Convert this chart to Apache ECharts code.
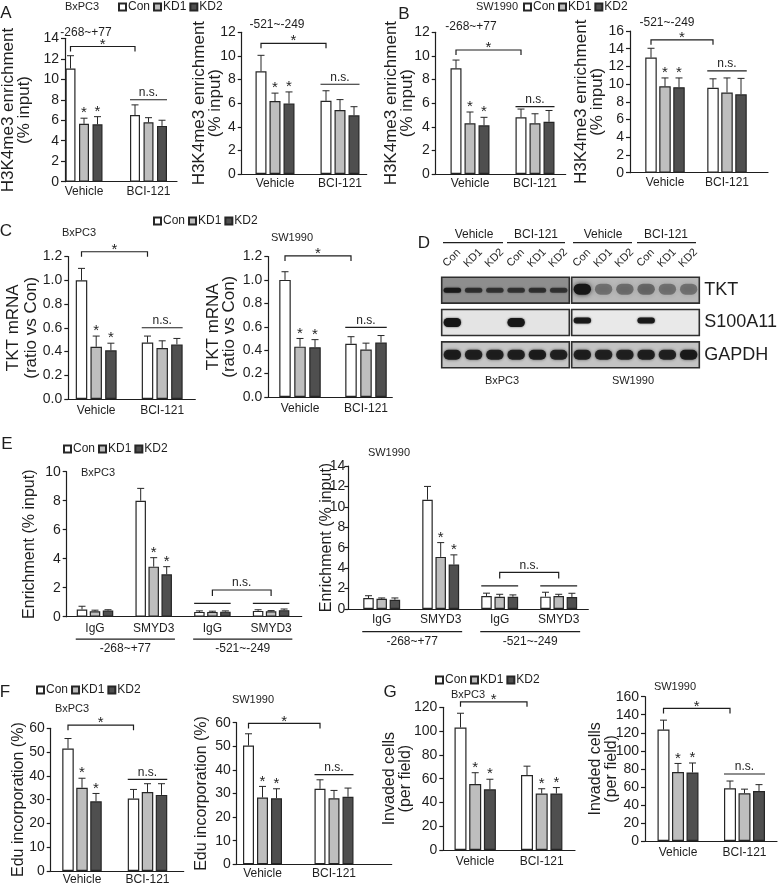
<!DOCTYPE html>
<html><head><meta charset="utf-8">
<script src="https://cdn.jsdelivr.net/npm/echarts@6/dist/echarts.min.js"></script>
<style>html,body{margin:0;padding:0;background:#fff}#c{width:778px;height:884px}</style>
</head><body><div id="c"></div>
<script>
// ================= DATA =================
const seriesNames = ['Con', 'KD1', 'KD2'];
const treatGroups = ['Vehicle', 'BCI-121'];
const chipGroups = ['IgG', 'SMYD3', 'IgG', 'SMYD3'];
const regionNames = ['-268~+77', '-521~-249'];
const laneLabels = ['Con', 'KD1', 'KD2', 'Con', 'KD1', 'KD2'];
const blotRows = ['TKT', 'S100A11', 'GAPDH'];

// A: H3K4me3 enrichment (% input), BxPC3
const a1Con = [11.05, 6.5],  a1ConErr = [1.25, 1.0];
const a1KD1 = [5.65, 5.8],   a1KD1Err = [0.55, 0.45];
const a1KD2 = [5.6, 5.45],   a1KD2Err = [0.75, 0.55];
const a2Con = [8.7, 6.2],    a2ConErr = [1.35, 0.85];
const a2KD1 = [6.18, 5.42],  a2KD1Err = [0.67, 0.88];
const a2KD2 = [5.96, 4.97],  a2KD2Err = [0.99, 0.73];
// B: SW1990
const b1Con = [8.95, 4.8],   b1ConErr = [0.7, 0.7];
const b1KD1 = [4.3, 4.3],    b1KD1Err = [0.95, 0.8];
const b1KD2 = [4.12, 4.42],  b1KD2Err = [0.68, 0.96];
const b2Con = [13.0, 9.6],   b2ConErr = [1.05, 1.0];
const b2KD1 = [9.75, 9.05],  b2KD1Err = [0.95, 1.65];
const b2KD2 = [9.65, 8.85],  b2KD2Err = [1.05, 1.8];
// C: TKT mRNA (ratio vs Con)
const c1Con = [1.0, 0.475],  c1ConErr = [0.1, 0.055];
const c1KD1 = [0.44, 0.43],  c1KD1Err = [0.09, 0.06];
const c1KD2 = [0.41, 0.46],  c1KD2Err = [0.06, 0.05];
const c2Con = [1.0, 0.455],  c2ConErr = [0.07, 0.06];
const c2KD1 = [0.43, 0.405], c2KD1Err = [0.07, 0.055];
const c2KD2 = [0.425, 0.465],c2KD2Err = [0.065, 0.06];
// E: ChIP enrichment (% input)
const e1Con = [0.5, 8.0, 0.33, 0.4],   e1ConErr = [0.22, 0.85, 0.07, 0.08];
const e1KD1 = [0.38, 3.45, 0.33, 0.37],e1KD1Err = [0.07, 0.62, 0.05, 0.05];
const e1KD2 = [0.42, 2.92, 0.35, 0.45],e1KD2Err = [0.06, 0.53, 0.05, 0.08];
const e2Con = [1.08, 10.7, 1.28, 1.21],e2ConErr = [0.22, 1.3, 0.27, 0.43];
const e2KD1 = [1.0, 5.1, 1.2, 1.27],   e2KD1Err = [0.08, 1.4, 0.24, 0.17];
const e2KD2 = [0.9, 4.35, 1.2, 1.18],  e2KD2Err = [0.18, 0.95, 0.18, 0.36];
// F: Edu incorporation (%)
const f1Con = [51.5, 30.5],  f1ConErr = [4.2, 3.8];
const f1KD1 = [35.0, 33.2],  f1KD1Err = [4.0, 3.5];
const f1KD2 = [29.3, 32.0],  f1KD2Err = [3.3, 4.7];
const f2Con = [50.3, 32.0],  f2ConErr = [5.0, 3.8];
const f2KD1 = [28.3, 28.0],  f2KD1Err = [4.7, 3.3];
const f2KD2 = [28.0, 28.6],  f2KD2Err = [4.0, 3.7];
// G: Invaded cells (per field)
const g1Con = [103, 63],     g1ConErr = [12, 7.5];
const g1KD1 = [55.5, 47.5],  g1KD1Err = [9.5, 4];
const g1KD2 = [51, 47.5],    g1KD2Err = [8.5, 5];
const g2Con = [123.5, 58.5], g2ConErr = [10.5, 8];
const g2KD1 = [76.5, 53],    g2KD1Err = [9.5, 4.5];
const g2KD2 = [76, 55.5],    g2KD2Err = [10.5, 7];

// significance annotations (heights in data units)
const a1Sig = {bracketY: 13.2, nsY: 8.0, stars: [[0,1],[0,2]]};
const a2Sig = {bracketY: 11.07, nsY: 7.6, stars: [[0,1],[0,2]]};
const b1Sig = {bracketY: 10.5, nsY: 5.7, stars: [[0,1],[0,2]]};
const b2Sig = {bracketY: 15.0, nsY: 11.5, stars: [[0,1],[0,2]]};
const c1Sig = {bracketY: 1.24, nsY: 0.6, stars: [[0,1],[0,2]]};
const c2Sig = {bracketY: 1.205, nsY: 0.595, stars: [[0,1],[0,2]]};
const e1Sig = {nsBracketY: 1.84, groupLineY: 0.92, stars: [[1,1],[1,2]]};
const e2Sig = {nsBracketY: 3.58, groupLineY: 2.27, stars: [[1,1],[1,2]]};
const f1Sig = {bracketY: 61.3, nsY: 38.5, stars: [[0,1],[0,2]]};
const f2Sig = {bracketY: 59.7, nsY: 38.0, stars: [[0,1],[0,2]]};
const g1Sig = {bracketY: 124.6, nsY: null, stars: [[0,1],[0,2],[1,1],[1,2]]};
const g2Sig = {bracketY: 147, nsY: 74.3, stars: [[0,1],[0,2]]};

// western blot band intensities (0..1) per lane
const bxTKT = [0.95, 0.7, 0.68, 0.68, 0.7, 0.68];
const bxS100A11 = [1, 0, 0, 0.97, 0, 0];
const bxGAPDH = [0.92, 0.9, 0.9, 0.9, 0.92, 0.88];
const swTKT = [1, 0.4, 0.42, 0.45, 0.4, 0.4];
const swS100A11 = [0.95, 0, 0, 0.95, 0, 0];
const swGAPDH = [0.9, 0.88, 0.88, 0.9, 0.88, 0.95];

// ================= STYLE / BUILD =================
const FONT = '"Liberation Sans", Arial, Helvetica, sans-serif';
const INK = '#1e1e1e';
const FILLS = ['#ffffff', '#bebebe', '#4f4f4f'];
const EDGE = '#262626';

const option = {animation: false, backgroundColor: '#fff', grid: [], xAxis: [], yAxis: [], series: [], legend: [], graphic: []};

function txt(text, x, y, size, align) {
  option.graphic.push({type: 'text', x: x, y: y, silent: true,
    style: {text: text, fontSize: size, fontFamily: FONT, fill: INK, align: align || 'center', verticalAlign: 'middle'}});
}
function legendAt(left, top) {
  option.legend.push({data: seriesNames, left: left, top: top, orient: 'horizontal', icon: 'rect',
    itemWidth: 7, itemHeight: 7, itemGap: 3, padding: 0, selectedMode: false,
    textStyle: {fontSize: 12, fontFamily: FONT, color: INK, padding: [0, 0, 0, -3]}});
}

function barPanel(p) {
  const gi = option.grid.length;
  option.grid.push({left: p.left, top: p.top, width: p.width, height: p.height, containLabel: false, outerBoundsMode: 'none'});
  const xOf = (g, s) => p.off + g * p.gpitch + s * p.pitch;
  const centers = p.groups.map((_, g) => xOf(g, 1));
  option.xAxis.push({
    type: 'value', gridIndex: gi, min: 0, max: p.width,
    axisLine: {show: true, onZero: false, lineStyle: {color: INK, width: 1.2}},
    axisTick: {show: false}, splitLine: {show: false},
    axisLabel: {customValues: centers, hideOverlap: false,
      formatter: function (v) { let b = 0; centers.forEach((c, i) => { if (Math.abs(c - v) < Math.abs(centers[b] - v)) b = i; }); return p.groups[b]; },
      fontSize: 12, margin: p.xMargin, color: INK, fontFamily: FONT}
  });
  const yl = {fontSize: 14, margin: p.yMargin || 6, color: INK, fontFamily: FONT, showMaxLabel: true, showMinLabel: true};
  if (p.yFmt) yl.formatter = p.yFmt;
  option.yAxis.push({
    type: 'value', gridIndex: gi, min: 0, max: p.ymax, interval: p.interval, z: 20,
    axisLine: {show: true, onZero: false, lineStyle: {color: INK, width: 1.2}},
    axisTick: {show: true, length: 4, lineStyle: {color: INK, width: 1.2}},
    splitLine: {show: false},
    axisLabel: yl,
    name: p.yName, nameLocation: 'middle', nameGap: p.nameGap, nameMoveOverlap: false,
    nameTextStyle: {fontSize: p.nameSize || 17, lineHeight: p.nameLH || 16, color: INK, fontFamily: FONT}
  });
  p.means.forEach((m, s) => {
    option.series.push({type: 'bar', name: seriesNames[s], xAxisIndex: gi, yAxisIndex: gi, barWidth: p.bw, barGap: '-100%',
      data: m.map((v, g) => [xOf(g, s), v]), silent: true, z: 2,
      itemStyle: {color: FILLS[s], borderColor: EDGE, borderWidth: 1.2}});
  });
  const errData = [];
  p.means.forEach((m, s) => m.forEach((v, g) => errData.push([xOf(g, s), v, v + p.errs[s][g]])));
  option.series.push({type: 'custom', xAxisIndex: gi, yAxisIndex: gi, data: errData, encode: {x: 0, y: [1, 2]},
    z: 3, silent: true, clip: false,
    renderItem: function (params, api) {
      const a = api.coord([api.value(0), api.value(1)]);
      const b = api.coord([api.value(0), api.value(2)]);
      return {type: 'group', children: [
        {type: 'line', shape: {x1: a[0], y1: a[1], x2: b[0], y2: b[1]}, style: {stroke: EDGE, lineWidth: 1}},
        {type: 'line', shape: {x1: b[0] - 3.5, y1: b[1], x2: b[0] + 3.5, y2: b[1]}, style: {stroke: EDGE, lineWidth: 1}}]};
    }});
  const sig = p.sig, ann = [];
  const half = p.bw / 2;
  if (sig.bracketY != null) ann.push({kind: 'br', x1: xOf(0, 0), x2: xOf(1, 0), y: sig.bracketY, label: '*'});
  if (sig.nsY != null) ann.push({kind: 'ns', x1: xOf(1, 0) - half, x2: xOf(1, 2) + half, y: sig.nsY});
  if (sig.nsBracketY != null) {
    ann.push({kind: 'brns', x1: xOf(2, 1), x2: xOf(3, 1), y: sig.nsBracketY});
    ann.push({kind: 'line', x1: xOf(2, 0) - half, x2: xOf(2, 2) + half, y: sig.groupLineY});
    ann.push({kind: 'line', x1: xOf(3, 0) - half, x2: xOf(3, 2) + half, y: sig.groupLineY});
  }
  sig.stars.forEach(([g, s]) => ann.push({kind: 'star', x: xOf(g, s), y: p.means[s][g] + p.errs[s][g]}));
  if (p.regions) p.regions.forEach((r) => ann.push({kind: 'region', x1: xOf(r.g0, 0) - half - 1, x2: xOf(r.g1, 2) + half + 3, y: 0, label: r.label}));
  const T = (text, x, y, size, va) => ({type: 'text', style: {text: text, x: x, y: y, align: 'center', verticalAlign: va, fontSize: size, fontFamily: FONT, fill: INK}});
  const L = (x1, y1, x2, y2) => ({type: 'line', shape: {x1: x1, y1: y1, x2: x2, y2: y2}, style: {stroke: INK, lineWidth: 1.2}});
  option.series.push({type: 'custom', xAxisIndex: gi, yAxisIndex: gi, clip: false, silent: true, z: 4,
    data: ann.map((d) => [d.x != null ? d.x : d.x1, d.y]), encode: {x: 0, y: 1},
    renderItem: function (params, api) {
      const d = ann[params.dataIndex];
      if (d.kind === 'br' || d.kind === 'brns') {
        const a = api.coord([d.x1, d.y]), b = api.coord([d.x2, d.y]);
        const drop = d.kind === 'br' ? 5 : 6;
        return {type: 'group', children: [
          {type: 'polyline', shape: {points: [[a[0], a[1] + drop], [a[0], a[1]], [b[0], b[1]], [b[0], b[1] + drop]]}, style: {stroke: INK, lineWidth: 1.2, fill: null}},
          d.kind === 'br' ? T('*', (a[0] + b[0]) / 2, a[1] - 2, 15, 'middle') : T('n.s.', (a[0] + b[0]) / 2, a[1] - 1, 12, 'bottom')]};
      }
      if (d.kind === 'ns') {
        const a = api.coord([d.x1, d.y]), b = api.coord([d.x2, d.y]);
        return {type: 'group', children: [L(a[0], a[1], b[0], b[1]), T('n.s.', (a[0] + b[0]) / 2, a[1] - 1, 12, 'bottom')]};
      }
      if (d.kind === 'line') {
        const a = api.coord([d.x1, d.y]), b = api.coord([d.x2, d.y]);
        return L(a[0], a[1], b[0], b[1]);
      }
      if (d.kind === 'star') {
        const a = api.coord([d.x, d.y]);
        return T('*', a[0], a[1] - 5, 15, 'middle');
      }
      if (d.kind === 'region') {
        const a = api.coord([d.x1, 0]), b = api.coord([d.x2, 0]);
        return {type: 'group', children: [L(a[0], a[1] + p.regLine, b[0], b[1] + p.regLine), T(d.label, (a[0] + b[0]) / 2, a[1] + p.regText, 12, 'middle')]};
      }
      return null;
    }});
}

function blotPanel(b) {
  const gi = option.grid.length;
  option.grid.push({left: b.left, top: b.top, width: b.width, height: b.height, containLabel: false, outerBoundsMode: 'none'});
  option.xAxis.push({type: 'category', gridIndex: gi, data: laneLabels, position: 'top',
    axisLine: {show: false}, axisTick: {show: false}, splitLine: {show: false}, axisLabel: {show: false}});
  option.yAxis.push({type: 'category', gridIndex: gi, data: blotRows, inverse: true, position: 'right',
    axisLine: {show: false}, axisTick: {show: false}, splitLine: {show: false},
    axisLabel: {show: b.showRows, fontSize: 18, margin: 5, color: INK, fontFamily: FONT}});
  option.series.push({type: 'custom', xAxisIndex: gi, yAxisIndex: gi, silent: true, z: 3, clip: false,
    data: laneLabels.map((l, i) => [i, 0]),
    renderItem: function (params, api) {
      const c = api.coord([api.value(0), 0]);
      const cs = params.coordSys;
      return {type: 'text', x: c[0] - 0.5, y: cs.y - 16, rotation: Math.PI / 4,
        style: {text: laneLabels[params.dataIndex], align: 'center', verticalAlign: 'middle', fontSize: 11, fontFamily: FONT, fill: INK}};
    }});
  option.series.push({type: 'custom', xAxisIndex: gi, yAxisIndex: gi, silent: true, z: 1, clip: false,
    data: blotRows.map((r, i) => [0, i]),
    renderItem: function (params, api) {
      const c = api.coord([0, api.value(1)]);
      const sz = api.size([1, 1]);
      const cs = params.coordSys;
      return {type: 'rect', shape: {x: cs.x, y: c[1] - sz[1] * 0.4, width: cs.width, height: sz[1] * 0.8},
        style: {fill: b.bg[api.value(1)], stroke: '#2e2e2e', lineWidth: 1.6}};
    }});
  const bandData = [];
  b.rows.forEach((arr, r) => arr.forEach((v, l) => { if (v > 0) bandData.push([l, r, v]); }));
  option.series.push({type: 'custom', xAxisIndex: gi, yAxisIndex: gi, silent: true, z: 2, clip: false,
    data: bandData,
    renderItem: function (params, api) {
      const r = api.value(1), v = api.value(2);
      const c = api.coord([api.value(0), r]);
      const sz = api.size([1, 1]);
      const h = b.bandH[r], w = sz[0] * 0.82;
      return {type: 'rect', shape: {x: c[0] - w / 2, y: c[1] - h / 2 + b.bandDy[r], width: w, height: h, r: h / 2},
        style: {fill: 'rgba(22,22,22,' + v + ')', shadowBlur: b.blur[r], shadowColor: 'rgba(22,22,22,' + (v * 0.8) + ')'}};
    }});
}

// ---------- panels ----------
const H3 = 'H3K4me3 enrichment\n(% input)';
barPanel({left: 65, top: 38.3, width: 112, height: 143.4, ymax: 14, interval: 2, off: 5.5, pitch: 13.5, gpitch: 64.5, bw: 10,
  xMargin: 4, nameGap: 33, yName: H3, groups: treatGroups,
  means: [a1Con, a1KD1, a1KD2], errs: [a1ConErr, a1KD1Err, a1KD2Err], sig: a1Sig});
barPanel({left: 241.7, top: 32.3, width: 125, height: 141.7, ymax: 12, interval: 2, off: 19.3, pitch: 14, gpitch: 65, bw: 11,
  xMargin: 4, nameGap: 18.5, yName: H3, groups: treatGroups,
  means: [a2Con, a2KD1, a2KD2], errs: [a2ConErr, a2KD1Err, a2KD2Err], sig: a2Sig});
barPanel({left: 435.7, top: 32.3, width: 130, height: 141.7, ymax: 12, interval: 2, off: 20.3, pitch: 14, gpitch: 65, bw: 11,
  xMargin: 4, nameGap: 20.7, yName: H3, groups: treatGroups,
  means: [b1Con, b1KD1, b1KD2], errs: [b1ConErr, b1KD1Err, b1KD2Err], sig: b1Sig});
barPanel({left: 630, top: 31, width: 138, height: 141.7, ymax: 16, interval: 2, off: 21, pitch: 14, gpitch: 62, bw: 11.5,
  xMargin: 4, nameGap: 25, yName: H3, groups: treatGroups,
  means: [b2Con, b2KD1, b2KD2], errs: [b2ConErr, b2KD1Err, b2KD2Err], sig: b2Sig});
const TK = 'TKT mRNA\n(ratio vs Con)';
const f1 = (v) => v.toFixed(1);
barPanel({left: 68.3, top: 256.5, width: 127, height: 142.5, ymax: 1.2, interval: 0.2, off: 13.2, pitch: 14.7, gpitch: 66, bw: 11.5,
  xMargin: 6, nameGap: 28, yName: TK, nameLH: 18, yFmt: f1, groups: treatGroups,
  means: [c1Con, c1KD1, c1KD2], errs: [c1ConErr, c1KD1Err, c1KD2Err], sig: c1Sig});
barPanel({left: 268.3, top: 256.5, width: 124, height: 140.5, ymax: 1.2, interval: 0.2, off: 16.7, pitch: 15, gpitch: 66, bw: 11.5,
  xMargin: 6, nameGap: 31, yName: TK, nameLH: 16, yFmt: f1, groups: treatGroups,
  means: [c2Con, c2KD1, c2KD2], errs: [c2ConErr, c2KD1Err, c2KD2Err], sig: c2Sig});
const EN = 'Enrichment (% input)';
barPanel({left: 66.7, top: 471.7, width: 235, height: 145, ymax: 10, interval: 2, off: 15.3, pitch: 13, gpitch: 58.7, bw: 10.5,
  xMargin: 6, nameGap: 29, yName: EN, nameSize: 16, groups: chipGroups, regLine: 22.5, regText: 31.5,
  regions: [{g0: 0, g1: 1, label: regionNames[0]}, {g0: 2, g1: 3, label: regionNames[1]}],
  means: [e1Con, e1KD1, e1KD2], errs: [e1ConErr, e1KD1Err, e1KD2Err], sig: e1Sig});
barPanel({left: 348.3, top: 466, width: 240, height: 143, ymax: 14, interval: 2, off: 20.2, pitch: 13.2, gpitch: 59, bw: 10.5,
  xMargin: 4.5, yMargin: 3, nameGap: 14, yName: EN, nameSize: 16, groups: chipGroups, regLine: 22.7, regText: 32.7,
  regions: [{g0: 0, g1: 1, label: regionNames[0]}, {g0: 2, g1: 3, label: regionNames[1]}],
  means: [e2Con, e2KD1, e2KD2], errs: [e2ConErr, e2KD1Err, e2KD2Err], sig: e2Sig});
const ED = 'Edu incorporation (%)';
barPanel({left: 50.7, top: 728.3, width: 133, height: 142.7, ymax: 60, interval: 10, off: 17.3, pitch: 14, gpitch: 65.5, bw: 11.5,
  xMargin: 3, nameGap: 24.4, yName: ED, nameSize: 16, groups: treatGroups,
  means: [f1Con, f1KD1, f1KD2], errs: [f1ConErr, f1KD1Err, f1KD2Err], sig: f1Sig});
barPanel({left: 236.7, top: 722.7, width: 155, height: 141.6, ymax: 60, interval: 10, off: 11.8, pitch: 14, gpitch: 71.5, bw: 11,
  xMargin: 3, nameGap: 27, yName: ED, nameSize: 16, groups: treatGroups,
  means: [f2Con, f2KD1, f2KD2], errs: [f2ConErr, f2KD1Err, f2KD2Err], sig: f2Sig});
const IN = 'Invaded cells\n(per field)';
barPanel({left: 443.3, top: 707.3, width: 131.7, height: 142.7, ymax: 120, interval: 20, off: 17.2, pitch: 14.7, gpitch: 66.5, bw: 12,
  xMargin: 5.5, nameGap: 30, yName: IN, nameSize: 16, groups: treatGroups,
  means: [g1Con, g1KD1, g1KD2], errs: [g1ConErr, g1KD1Err, g1KD2Err], sig: g1Sig});
barPanel({left: 645, top: 696.7, width: 132, height: 144.3, ymax: 160, interval: 20, off: 18.5, pitch: 14.5, gpitch: 66.5, bw: 12,
  xMargin: 6, nameGap: 25.3, yName: IN, nameSize: 16, groups: treatGroups,
  means: [g2Con, g2KD1, g2KD2], errs: [g2ConErr, g2KD1Err, g2KD2Err], sig: g2Sig});

// D: western blots
blotPanel({left: 441.7, top: 274, width: 127.6, height: 97, showRows: false,
  rows: [bxTKT, bxS100A11, bxGAPDH], bg: ['#8e8e8e', '#e4e4e4', '#c6c6c6'],
  bandH: [5, 9, 10], bandDy: [0, 0, 0], blur: [2, 2, 3]});
blotPanel({left: 571.7, top: 274, width: 127.6, height: 97, showRows: true,
  rows: [swTKT, swS100A11, swGAPDH], bg: ['#b9b9b9', '#e9e9e9', '#c3c3c3'],
  bandH: [11, 6, 10], bandDy: [-1, -2, 0], blur: [5, 2, 3]});

// ---------- texts: panel letters, cell lines, regions, legends ----------
txt('A', 6, 13, 17); txt('B', 404, 14, 17); txt('C', 6, 231, 17); txt('D', 424, 243, 17);
txt('E', 7, 444, 17); txt('F', 5, 692, 17); txt('G', 390, 692, 17);
txt('BxPC3', 82, 7, 11); txt('SW1990', 497, 7, 11);
txt('BxPC3', 79, 233, 11); txt('SW1990', 292, 238, 11);
txt('BxPC3', 98, 473, 11); txt('SW1990', 389, 453, 11);
txt('BxPC3', 72, 709, 11); txt('SW1990', 253, 700, 11);
txt('BxPC3', 468, 695, 11); txt('SW1990', 675, 687, 11);
txt('BxPC3', 502, 381, 11); txt('SW1990', 633, 381, 11);
txt(regionNames[0], 86, 33, 12); txt(regionNames[1], 277, 25, 12);
txt(regionNames[0], 471, 27, 12); txt(regionNames[1], 667, 23, 12);
[[474, 443, 503], [536, 507, 565], [603, 573, 632], [666, 637, 696]].forEach((g, i) => {
  txt(treatGroups[i % 2], g[0], 235, 12);
  option.graphic.push({type: 'line', silent: true, shape: {x1: g[1], y1: 242.7, x2: g[2], y2: 242.7}, style: {stroke: INK, lineWidth: 1.2}});
});
legendAt(118, 1); legendAt(523, 1); legendAt(153, 215); legendAt(63, 443); legendAt(36, 684); legendAt(435, 674);

const chart = echarts.init(document.getElementById('c'), null, {renderer: 'canvas'});
chart.setOption(option);
</script>
</body></html>
